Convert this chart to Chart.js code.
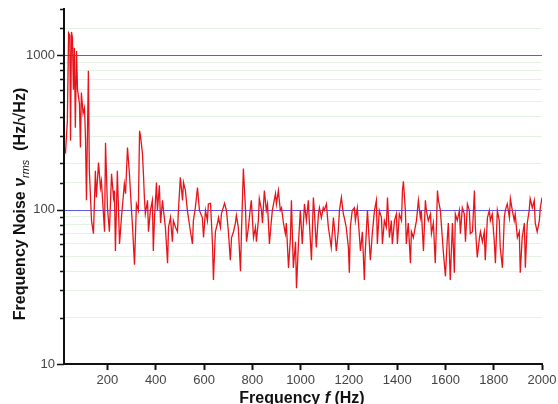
<!DOCTYPE html>
<html>
<head>
<meta charset="utf-8">
<script src="https://cdn.jsdelivr.net/npm/chart.js@4.4.0/dist/chart.umd.min.js"></script>
<style>
  html, body { margin: 0; padding: 0; background: #fff; }
  #caixa { width: 558px; height: 404px; position: relative; overflow: hidden; }
</style>
</head>
<body>
<div id="caixa"><canvas id="grafico" width="558" height="404"></canvas></div>
<script>
// frequency noise spectrum
const freqHz = [
  26, 34, 39, 44, 47, 51, 55, 59, 63, 67, 72, 76, 84, 88, 92, 99, 105, 109, 113, 121,
  125, 134, 142, 150, 154, 163, 171, 175, 188, 192, 200, 208, 217, 225, 229, 233, 241, 250, 258, 270,
  275, 283, 291, 299, 304, 312, 320, 328, 333, 337, 345, 349, 353, 357, 366, 370, 378, 386, 390, 395,
  403, 407, 415, 420, 428, 432, 440, 449, 453, 461, 469, 473, 482, 490, 494, 502, 511, 515, 523, 531,
  544, 552, 556, 564, 573, 581, 593, 598, 606, 614, 618, 627, 635, 639, 647, 656, 660, 668, 672, 685,
  693, 701, 709, 714, 722, 730, 734, 742, 751, 755, 763, 772, 776, 784, 792, 796, 805, 813, 817, 825,
  829, 838, 842, 850, 858, 863, 871, 879, 883, 896, 900, 908, 916, 921, 929, 937, 941, 950, 958, 962,
  970, 979, 983, 991, 999, 1007, 1016, 1024, 1032, 1036, 1045, 1053, 1057, 1065, 1074, 1078, 1086, 1094, 1098, 1107,
  1115, 1119, 1127, 1136, 1140, 1148, 1156, 1161, 1169, 1177, 1181, 1189, 1198, 1202, 1206, 1214, 1223, 1227, 1235, 1243,
  1248, 1256, 1264, 1268, 1277, 1285, 1289, 1297, 1306, 1314, 1318, 1326, 1335, 1339, 1347, 1355, 1360, 1368, 1376, 1380,
  1389, 1397, 1401, 1409, 1418, 1422, 1426, 1434, 1438, 1446, 1455, 1459, 1467, 1475, 1480, 1488, 1496, 1500, 1509, 1517,
  1521, 1529, 1538, 1542, 1550, 1558, 1567, 1571, 1579, 1587, 1591, 1600, 1608, 1612, 1620, 1629, 1637, 1641, 1649, 1658,
  1662, 1670, 1678, 1683, 1691, 1699, 1703, 1712, 1720, 1724, 1732, 1741, 1745, 1753, 1761, 1765, 1774, 1782, 1786, 1794,
  1803, 1807, 1815, 1823, 1827, 1836, 1844, 1848, 1856, 1865, 1869, 1877, 1885, 1889, 1898, 1906, 1910, 1918, 1927, 1931,
  1939, 1947, 1951, 1960, 1968, 1972, 1980, 1989, 1993, 2000
];
const noiseRms = [
  231, 378, 1400, 1350, 280, 1420, 1300, 600, 1120, 340, 1070, 600, 487, 253, 574, 420, 458, 294, 115, 795,
  179, 85, 70, 179, 120, 202, 139, 153, 72, 272, 103, 72, 171, 120, 133, 54, 179, 60, 89, 147,
  127, 253, 171, 103, 77, 44, 109, 99, 325, 300, 231, 171, 120, 94, 115, 72, 99, 115, 54, 89,
  150, 99, 144, 82, 115, 99, 77, 45, 77, 89, 62, 85, 77, 72, 99, 162, 115, 150, 133, 99,
  72, 60, 85, 103, 139, 99, 89, 66, 99, 85, 109, 110, 60, 35, 72, 82, 89, 77, 94, 110,
  99, 72, 47, 66, 72, 82, 92, 77, 40, 70, 185, 99, 62, 77, 103, 115, 66, 77, 62, 85,
  118, 99, 82, 133, 99, 109, 60, 85, 99, 127, 109, 133, 99, 103, 82, 70, 82, 42, 66, 115,
  42, 62, 31, 60, 99, 60, 109, 85, 115, 85, 47, 120, 99, 57, 94, 103, 89, 103, 99, 109,
  77, 70, 57, 89, 77, 54, 72, 99, 120, 94, 89, 77, 57, 39, 77, 99, 103, 85, 103, 70,
  54, 72, 35, 54, 99, 60, 47, 70, 99, 115, 60, 99, 89, 60, 85, 77, 120, 66, 85, 60,
  85, 94, 60, 94, 85, 133, 153, 99, 60, 82, 45, 72, 66, 77, 85, 115, 89, 99, 54, 115,
  99, 85, 94, 70, 82, 45, 133, 115, 99, 66, 54, 37, 66, 82, 35, 82, 39, 94, 85, 99,
  70, 103, 94, 62, 109, 99, 70, 72, 133, 77, 49, 66, 72, 62, 72, 47, 89, 99, 85, 94,
  60, 45, 99, 85, 57, 42, 89, 99, 109, 89, 118, 99, 85, 94, 66, 72, 39, 66, 82, 42,
  82, 99, 118, 103, 115, 82, 72, 85, 103, 120
];
const xTicks = [200, 400, 600, 800, 1000, 1200, 1400, 1600, 1800, 2000];
const yLabels = [10, 100, 1000];

const fonte = "'Liberation Sans', Arial, sans-serif";

// linhas azuis nas décadas 100 e 1000, por baixo da curva
const linhasDecada = {
  id: 'linhasDecada',
  beforeDatasetsDraw(chart) {
    const ctx = chart.ctx;
    const y = chart.scales.y;
    const area = chart.chartArea;
    ctx.save();
    ctx.strokeStyle = '#5a5af0';
    ctx.lineWidth = 1;
    yLabels.forEach(v => {
      if (v <= 10) return;
      const py = Math.round(y.getPixelForValue(v)) + 0.5;
      ctx.beginPath();
      ctx.moveTo(area.left + 1, py);
      ctx.lineTo(area.right, py);
      ctx.stroke();
    });
    ctx.restore();
  }
};

// marcas do eixo y (maiores nas décadas, menores no resto)
const marcasY = {
  id: 'marcasY',
  afterDraw(chart) {
    const ctx = chart.ctx;
    const y = chart.scales.y;
    ctx.save();
    ctx.strokeStyle = '#111';
    ctx.lineWidth = 1.5;
    y.ticks.forEach(t => {
      if (t.value > 2000) return;
      const py = Math.round(y.getPixelForValue(t.value)) + 0.5;
      const len = yLabels.includes(Math.round(t.value)) ? 7 : 4;
      ctx.beginPath();
      ctx.moveTo(y.right - len, py);
      ctx.lineTo(y.right, py);
      ctx.stroke();
    });
    ctx.restore();
  }
};

// títulos dos eixos com itálico e subscrito
function larguraPartes(ctx, partes) {
  let w = 0;
  partes.forEach(p => { ctx.font = p.font; w += ctx.measureText(p.t).width; });
  return w;
}
function desenhaPartes(ctx, partes, x, y) {
  partes.forEach(p => {
    ctx.font = p.font;
    ctx.fillText(p.t, x, y + (p.dy || 0));
    x += ctx.measureText(p.t).width;
  });
}
const titulos = {
  id: 'titulos',
  afterDraw(chart) {
    const ctx = chart.ctx;
    const negrito = 'bold 16px ' + fonte;
    const partesX = [
      { t: 'Frequency ', font: negrito },
      { t: 'f', font: 'italic bold 16px ' + fonte },
      { t: ' (Hz)', font: negrito }
    ];
    const partesY = [
      { t: 'Frequency Noise ', font: negrito },
      { t: 'ν', font: 'italic bold 16px ' + fonte },
      { t: 'rms', font: 'italic 11px ' + fonte, dy: 4 },
      { t: '  (Hz/√Hz)', font: negrito }
    ];
    ctx.save();
    ctx.fillStyle = '#111';
    ctx.textBaseline = 'alphabetic';
    ctx.textAlign = 'left';
    const wx = larguraPartes(ctx, partesX);
    desenhaPartes(ctx, partesX, 302 - wx / 2, 403);
    const wy = larguraPartes(ctx, partesY);
    ctx.translate(25, 204);
    ctx.rotate(-Math.PI / 2);
    desenhaPartes(ctx, partesY, -wy / 2, 0);
    ctx.restore();
  }
};

const ctx = document.getElementById('grafico').getContext('2d');
const meuGrafico = new Chart(ctx, {
  type: 'line',
  data: {
    datasets: [{
      data: freqHz.map((f, i) => ({ x: f, y: noiseRms[i] })),
      borderColor: '#e8141b',
      borderWidth: 1.3,
      pointRadius: 0,
      tension: 0,
      fill: false
    }]
  },
  options: {
    responsive: false,
    animation: false,
    layout: { padding: { top: 9, right: 16, left: 0, bottom: 0 } },
    plugins: { legend: { display: false }, tooltip: { enabled: false } },
    scales: {
      x: {
        type: 'linear',
        min: 20,
        max: 2000,
        afterBuildTicks: s => { s.ticks = xTicks.map(v => ({ value: v })); },
        afterFit: s => { s.height = 40; s.paddingLeft = 0; s.paddingRight = 0; },
        grid: { drawOnChartArea: false, tickLength: 6, tickColor: '#111', tickWidth: 2 },
        border: { color: '#111', width: 2 },
        ticks: {
          color: '#444',
          font: { family: fonte, size: 13 },
          padding: 3,
          maxRotation: 0,
          autoSkip: false,
          callback: v => String(v)
        }
      },
      y: {
        type: 'logarithmic',
        min: 10,
        max: 2000,
        afterFit: s => { s.width = 64; s.paddingTop = 0; s.paddingBottom = 0; },
        grid: {
          drawTicks: false,
          lineWidth: 1,
          color: c => {
            const v = c.tick ? Math.round(c.tick.value) : 0;
            if (yLabels.includes(v) || v >= 2000) return 'rgba(0,0,0,0)';
            return 'rgba(190,228,190,0.45)';
          }
        },
        border: { color: '#111', width: 2 },
        ticks: {
          color: '#444',
          font: { family: fonte, size: 13 },
          padding: 9,
          autoSkip: false,
          callback: v => yLabels.includes(v) ? String(v) : ''
        }
      }
    }
  },
  plugins: [linhasDecada, marcasY, titulos]
});
</script>
</body>
</html>
